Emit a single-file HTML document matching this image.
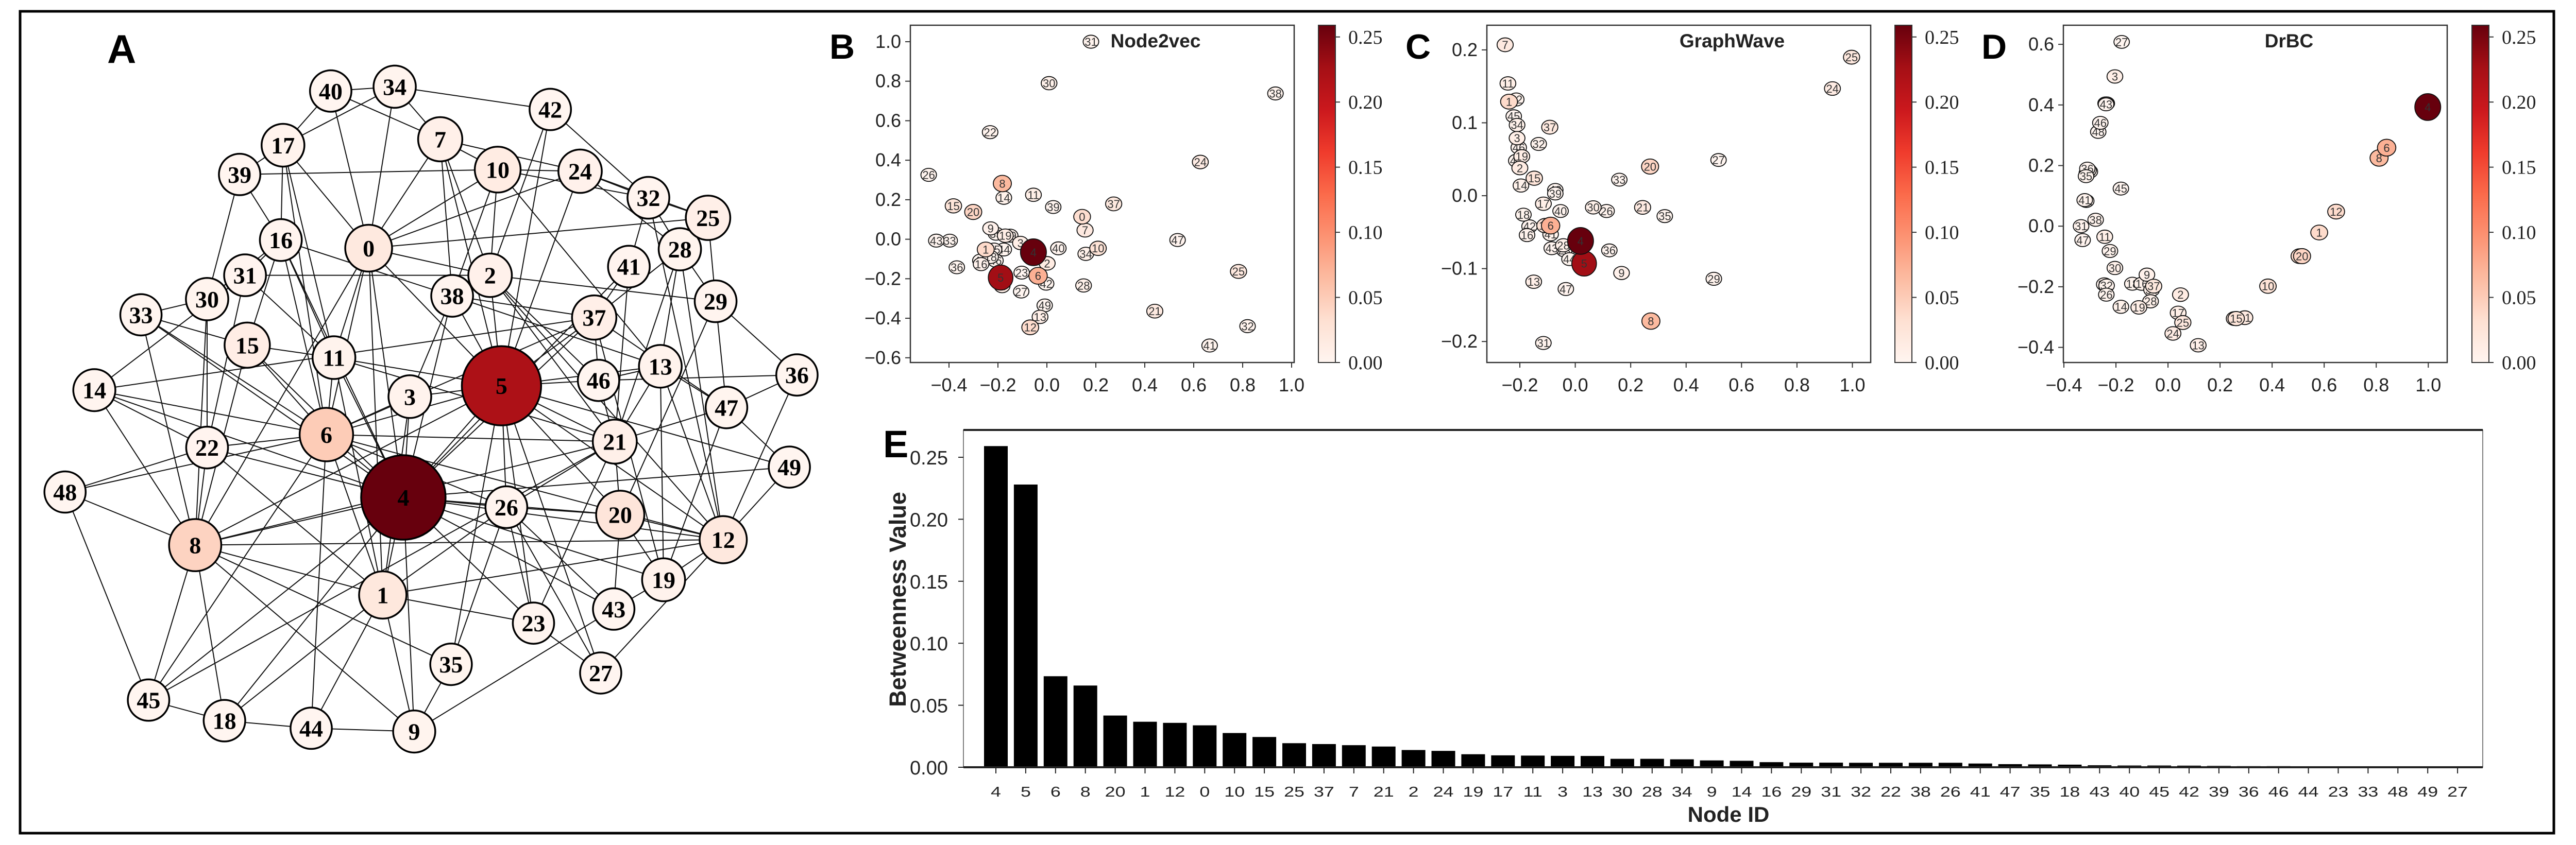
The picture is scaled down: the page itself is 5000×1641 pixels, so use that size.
<!DOCTYPE html>
<html><head><meta charset="utf-8"><title>Betweenness figure</title>
<style>
html,body{margin:0;padding:0;background:#fff;}
svg{display:block;}
text{font-family:"Liberation Sans",Arial,sans-serif;}
</style></head>
<body>
<svg id="fig" xmlns="http://www.w3.org/2000/svg" width="5000" height="1641" viewBox="0 0 5000 1641">
<defs>
<linearGradient id="reds" x1="0" y1="1" x2="0" y2="0">
<stop offset="0" stop-color="#fff5f0"/><stop offset="0.125" stop-color="#fee0d2"/><stop offset="0.25" stop-color="#fcbba1"/><stop offset="0.375" stop-color="#fc9272"/><stop offset="0.5" stop-color="#fb6a4a"/><stop offset="0.625" stop-color="#ef3b2c"/><stop offset="0.75" stop-color="#cb181d"/><stop offset="0.875" stop-color="#a50f15"/><stop offset="1" stop-color="#67000d"/>
</linearGradient>
</defs>
<rect x="0" y="0" width="5000" height="1641" fill="#fff"/>
<rect x="39" y="22" width="4918" height="1596" fill="none" stroke="#000" stroke-width="5"/>
</svg>
<script>
// ===== Panel E data (betweenness) =====
const bwIds = [4,5,6,8,20,1,12,0,10,15,25,37,7,21,2,24,19,17,11,3,13,30,28,34,9,14,16,29,31,32,22,38,26,41,47,35,18,43,40,45,42,39,36,46,44,23,33,48,49,27];
const bwVals = [0.259,0.228,0.0734,0.0659,0.0417,0.0367,0.0358,0.0338,0.0276,0.0244,0.0194,0.0187,0.0178,0.0167,0.0139,0.0132,0.0105,0.0096,0.0094,0.0092,0.0091,0.0068,0.0068,0.0064,0.0055,0.0052,0.0041,0.0037,0.0037,0.0036,0.0036,0.0036,0.0036,0.0030,0.0025,0.0023,0.0021,0.0016,0.0014,0.0014,0.0013,0.0011,0.0009,0.0009,0.0007,0.0005,0.0005,0.0003,0.0,0.0];
const eYTicks = [0,0.05,0.10,0.15,0.20,0.25];
const eYTickLabels = ["0.00","0.05","0.10","0.15","0.20","0.25"];

// ===== Panel A network =====
const netIds = [40,34,42,7,17,39,10,24,32,25,16,0,28,41,2,31,30,38,29,33,37,15,11,5,46,13,36,3,14,47,6,21,22,49,48,4,26,20,12,8,1,19,43,23,35,27,45,18,44,9];
const netX = [610,728,1015,812,522,442,918,1070,1196,1306,518,680,1254,1160,904,452,382,834,1320,260,1096,456,616,925,1104,1218,1470,756,174,1340,602,1134,382,1456,120,744,934,1144,1334,360,706,1224,1132,984,832,1108,274,414,574,764];
const netY = [168,160,202,257,268,322,313,316,365,402,443,458,460,492,508,508,552,546,556,581,586,637,660,712,702,676,692,732,720,752,802,815,826,862,908,918,936,950,996,1006,1098,1070,1124,1150,1226,1242,1292,1330,1344,1350];
const netEdges = [[40,34],[40,17],[40,0],[40,7],[34,42],[34,7],[34,17],[34,0],[42,2],[42,5],[42,32],[7,10],[7,24],[7,38],[7,5],[7,2],[7,0],[17,39],[17,16],[17,11],[17,0],[17,6],[39,10],[39,16],[39,30],[10,24],[10,32],[10,2],[10,13],[10,38],[10,0],[24,32],[24,25],[24,5],[24,28],[24,0],[32,25],[32,28],[32,41],[32,12],[25,29],[25,0],[16,11],[16,6],[16,4],[16,15],[16,38],[16,31],[16,30],[0,2],[0,4],[0,1],[0,8],[0,6],[0,11],[0,5],[28,13],[28,12],[28,21],[28,29],[28,37],[41,21],[41,37],[41,4],[2,38],[2,29],[2,5],[2,46],[2,12],[2,21],[31,2],[31,22],[31,11],[31,14],[30,33],[30,22],[30,8],[38,3],[38,37],[38,13],[38,4],[38,5],[29,36],[29,47],[29,20],[14,37],[33,15],[33,6],[33,8],[33,4],[37,5],[37,4],[37,6],[37,19],[37,47],[37,46],[15,11],[15,6],[15,4],[15,8],[11,5],[11,4],[11,1],[11,6],[11,21],[5,46],[5,13],[5,21],[5,26],[5,4],[5,6],[5,3],[5,23],[5,27],[5,20],[5,35],[5,12],[5,49],[5,8],[46,13],[46,21],[46,36],[13,47],[13,12],[13,19],[13,21],[36,47],[36,12],[3,4],[3,6],[3,1],[14,6],[14,22],[14,8],[14,4],[47,21],[47,49],[47,19],[6,21],[6,4],[6,1],[6,22],[6,48],[6,45],[6,44],[6,26],[6,12],[21,20],[21,26],[21,23],[21,8],[21,45],[22,8],[22,1],[22,4],[22,48],[49,12],[4,49],[48,8],[48,45],[4,26],[4,20],[4,12],[4,1],[4,8],[4,23],[4,43],[4,9],[4,45],[4,18],[4,19],[26,20],[26,43],[26,1],[26,27],[26,23],[20,12],[20,43],[20,19],[12,1],[12,19],[12,27],[8,45],[8,18],[8,1],[8,9],[8,35],[8,12],[1,23],[1,44],[1,9],[1,18],[19,43],[43,9],[23,27],[35,9],[35,26],[45,18],[18,44],[44,9]];

// ===== Panel B: Node2vec =====
const n2vIds = [31,30,38,22,24,26,8,14,11,39,37,15,20,0,7,47,9,35,19,29,43,33,3,40,10,34,1,45,44,48,16,46,2,36,23,6,17,42,28,27,25,49,13,12,21,32,41,18,5,4];
const n2vX = [0.180,0.009,0.934,-0.232,0.627,-0.483,-0.182,-0.176,-0.055,0.026,0.273,-0.382,-0.301,0.144,0.156,0.534,-0.230,-0.208,-0.170,-0.150,-0.452,-0.397,-0.108,0.047,0.209,0.159,-0.250,-0.216,-0.176,-0.272,-0.269,-0.210,0.001,-0.368,-0.103,-0.036,-0.183,-0.003,0.150,-0.105,0.783,-0.009,-0.028,-0.068,0.441,0.820,0.665,-0.230,-0.189,-0.055];
const n2vY = [1.000,0.790,0.738,0.542,0.391,0.326,0.282,0.210,0.225,0.163,0.179,0.169,0.138,0.114,0.046,-0.004,0.055,0.028,0.018,0.018,-0.007,-0.007,-0.019,-0.046,-0.046,-0.074,-0.052,-0.052,-0.052,-0.108,-0.126,-0.108,-0.122,-0.142,-0.169,-0.185,-0.237,-0.225,-0.234,-0.265,-0.163,-0.335,-0.393,-0.446,-0.364,-0.440,-0.538,-0.090,-0.194,-0.066];
const n2vXTicks = [-0.4,-0.2,0.0,0.2,0.4,0.6,0.8,1.0];
const n2vYTicks = [-0.6,-0.4,-0.2,0.0,0.2,0.4,0.6,0.8,1.0];

// ===== Panel C: GraphWave =====
const gwIds = [7,25,24,11,1,22,45,34,37,3,32,46,19,48,2,27,20,33,15,14,49,39,17,40,30,26,21,35,18,10,6,42,16,41,36,43,28,23,44,9,29,13,47,8,31,0,38,12,5,4];
const gwX = [-0.253,0.997,0.928,-0.243,-0.239,-0.213,-0.222,-0.210,-0.092,-0.210,-0.132,-0.204,-0.193,-0.213,-0.200,0.517,0.270,0.159,-0.148,-0.196,-0.072,-0.072,-0.115,-0.053,0.065,0.113,0.243,0.323,-0.187,-0.109,-0.089,-0.165,-0.174,-0.089,0.123,-0.085,-0.043,-0.040,-0.021,0.167,0.500,-0.150,-0.034,0.273,-0.115,0.013,0.016,0.010,0.032,0.019];
const gwY = [0.207,0.190,0.147,0.154,0.129,0.132,0.109,0.097,0.094,0.079,0.071,0.066,0.054,0.048,0.038,0.049,0.040,0.022,0.024,0.014,0.008,0.003,-0.011,-0.021,-0.016,-0.021,-0.016,-0.028,-0.026,-0.041,-0.041,-0.042,-0.054,-0.053,-0.075,-0.072,-0.068,-0.075,-0.087,-0.106,-0.114,-0.118,-0.128,-0.172,-0.202,-0.067,-0.066,-0.068,-0.093,-0.062];
const gwXTicks = [-0.2,0.0,0.2,0.4,0.6,0.8,1.0];
const gwYTicks = [-0.2,-0.1,0.0,0.1,0.2];

// ===== Panel D: DrBC =====
const dbIds = [27,3,23,39,40,43,46,48,44,33,35,36,49,45,41,42,12,38,31,1,47,11,29,0,20,30,10,9,18,16,37,34,22,32,26,2,28,14,19,17,7,15,21,25,24,13,6,8,5,4];
const dbX = [-0.178,-0.204,-0.240,-0.235,-0.237,-0.238,-0.260,-0.268,-0.305,-0.312,-0.315,-0.310,-0.300,-0.181,-0.320,-0.314,0.646,-0.278,-0.334,0.581,-0.328,-0.243,-0.223,0.505,0.515,-0.204,0.384,-0.081,-0.137,-0.101,-0.055,-0.063,-0.245,-0.236,-0.237,0.048,-0.067,-0.181,-0.112,0.039,0.255,0.262,0.295,0.057,0.019,0.116,0.840,0.811,0.998,0.998];
const dbY = [0.608,0.494,0.405,0.405,0.405,0.402,0.341,0.311,0.185,0.175,0.165,0.190,0.180,0.124,0.086,0.083,0.048,0.021,0.000,-0.021,-0.046,-0.035,-0.082,-0.099,-0.099,-0.138,-0.198,-0.160,-0.190,-0.190,-0.198,-0.210,-0.192,-0.196,-0.226,-0.226,-0.248,-0.266,-0.268,-0.286,-0.305,-0.305,-0.302,-0.318,-0.354,-0.393,0.259,0.225,0.391,0.393];
const dbXTicks = [-0.4,-0.2,0.0,0.2,0.4,0.6,0.8,1.0];
const dbYTicks = [-0.4,-0.2,0.0,0.2,0.4,0.6];

const cbTicks = [0.00,0.05,0.10,0.15,0.20,0.25];

// ===== rendering =====
const NS = "http://www.w3.org/2000/svg";
const svg = document.getElementById("fig");
function mk(tag, attrs, parent){
  const e = document.createElementNS(NS, tag);
  for (const k in attrs) e.setAttribute(k, attrs[k]);
  (parent||svg).appendChild(e);
  return e;
}
const bwMap = {};
bwIds.forEach((id,i)=>{ bwMap[id] = bwVals[i]; });
const VMAX = 0.259;
const redsStops = ["#fff5f0","#fee0d2","#fcbba1","#fc9272","#fb6a4a","#ef3b2c","#cb181d","#a50f15","#67000d"];
function hex2rgb(h){return [parseInt(h.substr(1,2),16),parseInt(h.substr(3,2),16),parseInt(h.substr(5,2),16)];}
function reds(v, gamma){
  let t = Math.pow(Math.max(0, Math.min(1, v/VMAX)), gamma||1) * 8;
  const i = Math.min(7, Math.floor(t)); const f = t - i;
  const a = hex2rgb(redsStops[i]), b = hex2rgb(redsStops[i+1]);
  return "rgb(" + a.map((c,k)=>Math.round(c+(b[k]-c)*f)).join(",") + ")";
}
function fmt(v, d){ const s = Math.abs(v).toFixed(d); return (v < -1e-9 ? "\u2212" : "") + s; }

// ---------- Panel A ----------
const S = 1.0523;
const gA = mk("g", {});


const posA = {};
netIds.forEach((id,i)=>{ posA[id] = [netX[i]*S, netY[i]*S]; });
const edgeG = mk("g", {stroke:"#111", "stroke-width":"2"}, gA);


netEdges.forEach(([a,b])=>{
  const l = mk("line", {x1:posA[a][0], y1:posA[a][1], x2:posA[b][0], y2:posA[b][1]}, edgeG);
  
  
});
const order = netIds.slice().sort((a,b)=>(bwMap[a]||0)-(bwMap[b]||0));
order.forEach(id=>{
  const v = bwMap[id] || 0;
  const r = 40 + 162*v;
  const c = mk("circle", {cx:posA[id][0], cy:posA[id][1], r:r, fill:reds(v, 1.3), stroke:"#000", "stroke-width":"3.5"}, gA);
  
  
  const t = mk("text", {x:posA[id][0], y:posA[id][1]+16, "text-anchor":"middle", "font-size":"46", "font-weight":"bold", style:'font-family:"Liberation Serif",serif', fill:"#000"}, gA);
  t.textContent = id;
  
  
});
const labA = mk("text", {x:208, y:122, "font-size":"78", "font-weight":"bold"});
labA.textContent = "A";



// ---------- scatter panels ----------
function scatterPanel(cfg){
  const g = mk("g", {});
  
  
  const xs = v => cfg.x0 + (v - cfg.xv0)*cfg.xk;
  const ys = v => cfg.y0 - (v - cfg.yv0)*cfg.yk;
  const fr = mk("rect", {x:cfg.L, y:49, width:cfg.R-cfg.L, height:655, fill:"#fff", stroke:"#333", "stroke-width":"2.5"}, g);
  
  
  cfg.xt.forEach(v=>{
    const x = xs(v);
    const tk = mk("line", {x1:x, y1:704, x2:x, y2:714, stroke:"#333", "stroke-width":"2"}, g);
    
    
    const tl = mk("text", {x:x, y:760, "text-anchor":"middle", "font-size":"36", fill:"#222"}, g);
    tl.textContent = fmt(v,1);
    
    
  });
  cfg.yt.forEach(v=>{
    const y = ys(v);
    const tk = mk("line", {x1:cfg.L-10, y1:y, x2:cfg.L, y2:y, stroke:"#333", "stroke-width":"2"}, g);
    
    
    const tl = mk("text", {x:cfg.L-18, y:y+12, "text-anchor":"end", "font-size":"36", fill:"#222"}, g);
    tl.textContent = fmt(v,1);
    
    
  });
  const title = mk("text", {x:cfg.tx, y:92, "text-anchor":"middle", "font-size":"37", "font-weight":"bold", fill:"#222"}, g);
  title.textContent = cfg.title;
  
  
  const idx = cfg.ids.map((id,i)=>i).sort((a,b)=>(bwMap[cfg.ids[a]]||0)-(bwMap[cfg.ids[b]]||0));
  idx.forEach(i=>{
    const id = cfg.ids[i]; const v = bwMap[id]||0;
    const cx = xs(cfg.xv[i]), cy = ys(cfg.yv[i]);
    const e = mk("ellipse", {cx:cx, cy:cy, rx:15+39*v, ry:12.5+52*v, fill:reds(v), stroke:"#111", "stroke-width":"1.8"}, g);
    
    
    const t = mk("text", {x:cx, y:cy+8, "text-anchor":"middle", "font-size":"22", fill:"#333"}, g);
    t.textContent = id;
    
    
  });
  const cb = mk("rect", {x:cfg.cb, y:49, width:33, height:655, fill:"url(#reds)", stroke:"#333", "stroke-width":"2"}, g);
  
  
  cbTicks.forEach(v=>{
    const y = 704 - v/VMAX*655;
    const tk = mk("line", {x1:cfg.cb+33, y1:y, x2:cfg.cb+42, y2:y, stroke:"#333", "stroke-width":"2"}, g);
    
    
    const tl = mk("text", {x:cfg.cb+58, y:y+13, "font-size":"38", style:'font-family:"Liberation Serif",serif', fill:"#222"}, g);
    tl.textContent = v.toFixed(2);
    
    
  });
  const lab = mk("text", {x:cfg.lx, y:114, "font-size":"68", "font-weight":"bold"}, g);
  lab.textContent = cfg.letter;
  
  
}
scatterPanel({name:"node2vec", title:"Node2vec", letter:"B", ids:n2vIds, xv:n2vX, yv:n2vY, xt:n2vXTicks, yt:n2vYTicks,
  L:1767, R:2512, x0:1842, xv0:-0.4, xk:475, y0:81, yv0:1.0, yk:383.6, cb:2559, tx:2243, lx:1610});
scatterPanel({name:"graphwave", title:"GraphWave", letter:"C", ids:gwIds, xv:gwX, yv:gwY, xt:gwXTicks, yt:gwYTicks,
  L:2886, R:3631, x0:2950, xv0:-0.2, xk:537.9, y0:96.9, yv0:0.2, yk:1415.8, cb:3678, tx:3362, lx:2728});
scatterPanel({name:"drbc", title:"DrBC", letter:"D", ids:dbIds, xv:dbX, yv:dbY, xt:dbXTicks, yt:dbYTicks,
  L:4005, R:4750, x0:4006, xv0:-0.4, xk:505.2, y0:86.1, yv0:0.6, yk:588.5, cb:4798, tx:4443, lx:3846});

// ---------- Panel E ----------
const gE = mk("g", {});


const eL = 1870, eR = 4819, eT = 835, eB = 1490;
const eY = v => eB - v*2408;
const eX = i => 1933 + i*57.9;
const eFrame = mk("rect", {x:eL, y:eT, width:eR-eL, height:eB-eT, fill:"#fff", stroke:"#555", "stroke-width":"1.5"}, gE);


const topLine = mk("line", {x1:eL, y1:eT, x2:eR, y2:eT, stroke:"#222", "stroke-width":"4"}, gE);


bwVals.forEach((v,i)=>{
  const b = mk("rect", {x:eX(i)-23, y:eY(v), width:46, height:eB-eY(v), fill:"#000"}, gE);
  
  
  const tk = mk("line", {x1:eX(i), y1:eB, x2:eX(i), y2:eB+12, stroke:"#222", "stroke-width":"2"}, gE);
  
  
  const tl = mk("text", {"text-anchor":"middle", "font-size":"28", fill:"#222", transform:"translate(" + eX(i) + ",1547) scale(1.28,1)"}, gE);
  tl.textContent = bwIds[i];
  
  
});
const botLine = mk("line", {x1:eL, y1:eB, x2:eR, y2:eB, stroke:"#222", "stroke-width":"4"}, gE);


eYTicks.forEach((v,i)=>{
  const y = eY(v);
  const tk = mk("line", {x1:eL-10, y1:y, x2:eL, y2:y, stroke:"#222", "stroke-width":"2"}, gE);
  
  
  const tl = mk("text", {x:1840, y:y+14, "text-anchor":"end", "font-size":"38", fill:"#222"}, gE);
  tl.textContent = eYTickLabels[i];
  
  
});
const xTitle = mk("text", {x:3355, y:1596, "text-anchor":"middle", "font-size":"42", "font-weight":"bold", fill:"#222"}, gE);
xTitle.textContent = "Node ID";


const yTitle = mk("text", {"text-anchor":"middle", "font-size":"45", "font-weight":"bold", fill:"#222", transform:"translate(1758,1164) rotate(-90)"}, gE);
yTitle.textContent = "Betweenness Value";


const labE = mk("text", {x:1714, y:888, "font-size":"74", "font-weight":"bold"}, gE);
labE.textContent = "E";


</script>
</body></html>
